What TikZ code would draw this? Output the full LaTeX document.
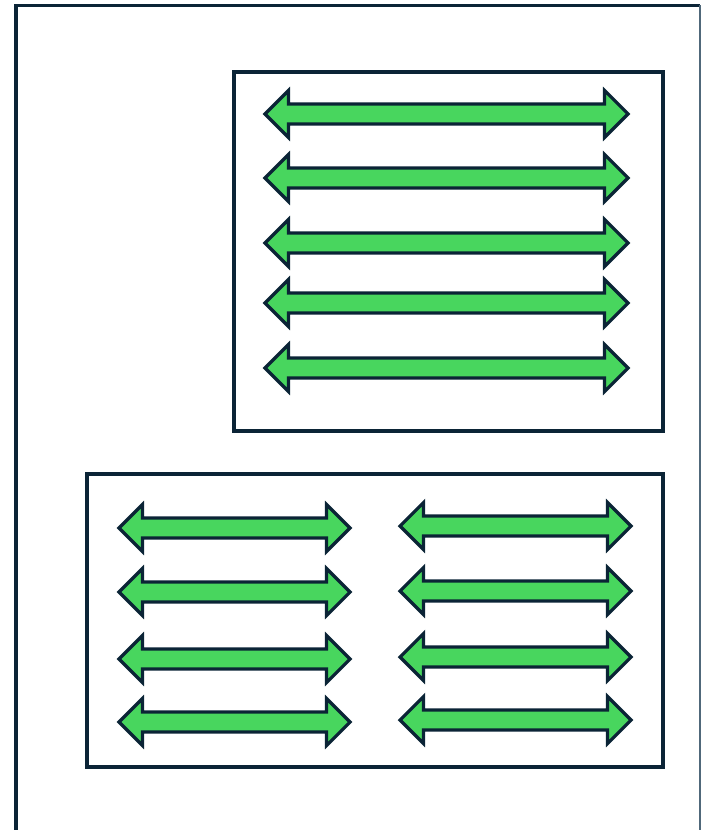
\documentclass[tikz,border=0pt]{standalone}
\usetikzlibrary{calc}
\definecolor{navy}{HTML}{0B2436}
\definecolor{agreen}{HTML}{48D65E}
\definecolor{edgegray}{HTML}{50687A}
\tikzset{
  frameline/.style={draw=navy, line width=2.4pt},
  boxline/.style={draw=navy, line width=2.4pt},
  arrowshape/.style={draw=navy, fill=agreen, line width=2.4pt, line join=miter},
}
% \dblarrow{left tip x}{right tip x}{center y}
\newcommand{\dblarrow}[3]{%
  \path[arrowshape] (#1,#3) -- ($(#1,#3)+(23.5,-23.5)$) -- ($(#1,#3)+(23.5,-10)$)
    -- ($(#2,#3)+(-23.5,-10)$) -- ($(#2,#3)+(-23.5,-23.5)$) -- (#2,#3)
    -- ($(#2,#3)+(-23.5,23.5)$) -- ($(#2,#3)+(-23.5,10)$)
    -- ($(#1,#3)+(23.5,10)$) -- ($(#1,#3)+(23.5,23.5)$) -- cycle;}
\begin{document}
\begin{tikzpicture}[x=0.75pt,y=-0.75pt]
\useasboundingbox (0,0) rectangle (701,830);
% outer frame (open at the bottom)
\draw[frameline] (16,831) -- (16,5.5) -- (700,5.5);
\draw[draw=edgegray, line width=0.9pt] (700,5.5) -- (700,831);
% upper box
\draw[boxline] (234,72) rectangle (663,431);
\foreach \yy in {114,178,243,303,368}{\dblarrow{265}{628}{\yy}}
% lower box
\draw[boxline] (87,474) rectangle (663,767);
\foreach \yy in {528,592,659,722}{\dblarrow{119}{350}{\yy}}
\foreach \yy in {526,591,657,720}{\dblarrow{400}{631}{\yy}}
\end{tikzpicture}
\end{document}
